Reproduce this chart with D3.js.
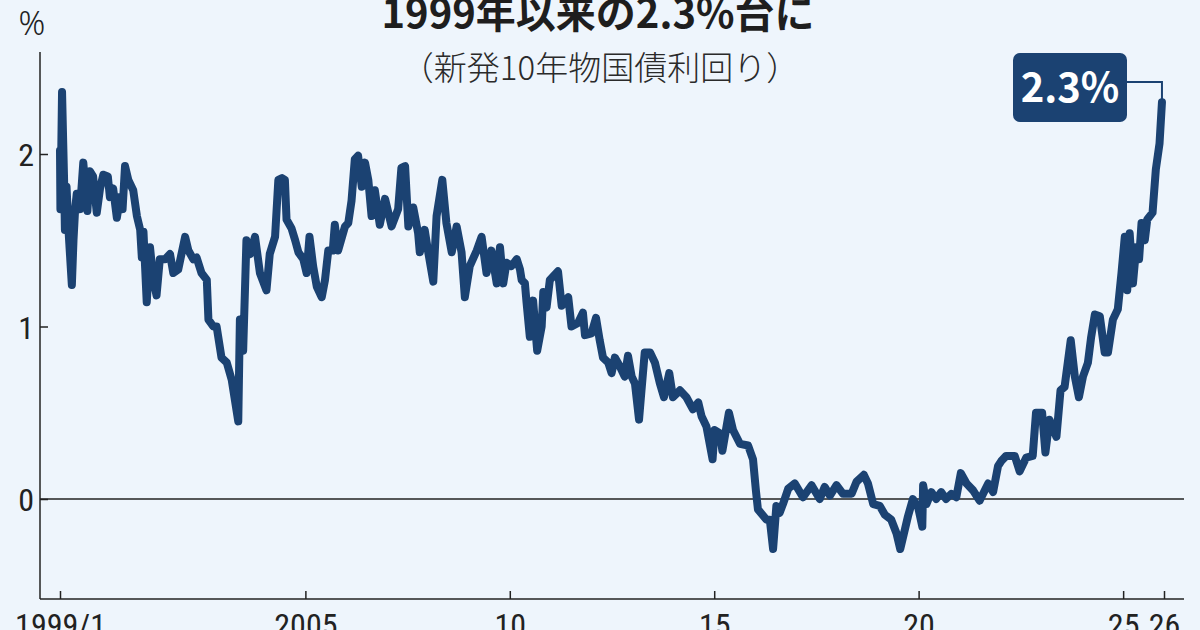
<!DOCTYPE html>
<html><head><meta charset="utf-8">
<script src="https://cdn.jsdelivr.net/npm/d3@7"></script>
<style>
html,body{margin:0;padding:0;background:#eef5fc;}
svg{display:block;}
</style></head>
<body>
<svg id="c" width="1200" height="630"></svg>
<script>
// decimal years (time) and yields (%) of new 10-year JGB
const years = [1999.00,1999.01,1999.03,1999.05,1999.08,1999.10,1999.12,1999.16,1999.21,1999.29,1999.33,1999.37,1999.41,1999.49,1999.57,1999.67,1999.73,1999.81,1999.90,1999.98,
2000.06,2000.17,2000.22,2000.30,2000.39,2000.47,2000.53,2000.59,2000.67,2000.79,2000.88,2000.96,2001.00,2001.04,2001.12,2001.20,2001.28,2001.36,2001.44,2001.57,2001.69,2001.77,2001.89,
2002.06,2002.14,2002.26,2002.34,2002.46,2002.59,2002.63,2002.75,2002.83,2002.95,2003.08,2003.20,2003.28,2003.36,2003.40,2003.48,2003.56,2003.65,2003.77,2003.89,
2004.05,2004.13,2004.26,2004.34,2004.43,2004.50,2004.54,2004.66,2004.75,2004.83,2004.95,2005.03,2005.10,2005.19,2005.28,2005.40,2005.48,2005.56,2005.67,2005.72,2005.80,2005.97,
2006.05,2006.13,2006.21,2006.29,2006.38,2006.46,2006.54,2006.62,2006.70,2006.82,2006.95,2007.11,2007.27,2007.35,2007.44,2007.52,2007.64,2007.76,2007.80,2007.92,
2008.00,2008.13,2008.21,2008.35,2008.45,2008.58,2008.70,2008.82,2008.90,2009.02,2009.19,2009.31,2009.43,2009.55,2009.68,2009.76,2009.84,2009.92,
2010.04,2010.17,2010.25,2010.29,2010.37,2010.41,2010.49,2010.57,2010.67,2010.78,2010.82,2010.90,2010.98,2011.10,2011.18,2011.27,2011.43,2011.51,2011.67,2011.79,2011.84,
2012.00,2012.11,2012.20,2012.28,2012.41,2012.49,2012.57,2012.69,2012.81,2012.89,2012.98,2013.06,2013.16,2013.22,2013.30,2013.43,2013.55,2013.67,2013.77,2013.90,2013.99,
2014.16,2014.32,2014.48,2014.61,2014.69,2014.81,2014.96,2015.01,2015.14,2015.20,2015.36,2015.46,2015.63,2015.83,2015.95,
2016.02,2016.07,2016.28,2016.36,2016.44,2016.52,2016.60,2016.68,2016.81,2016.97,2017.17,2017.38,2017.58,2017.70,2017.83,2017.99,
2018.15,2018.36,2018.48,2018.66,2018.76,2018.89,2019.05,2019.17,2019.33,2019.46,2019.55,2019.66,2019.74,2019.86,2019.99,
2020.09,2020.11,2020.19,2020.31,2020.43,2020.55,2020.67,2020.80,2020.92,2021.03,2021.17,2021.33,2021.49,2021.70,2021.82,2021.94,
2022.02,2022.14,2022.35,2022.47,2022.63,2022.79,2022.87,2023.02,2023.10,2023.20,2023.37,2023.47,2023.57,2023.72,2023.82,2023.92,
2024.02,2024.14,2024.22,2024.31,2024.43,2024.55,2024.63,2024.75,2024.87,2024.96,2025.04,2025.10,2025.16,2025.24,2025.32,2025.39,2025.45,2025.53,2025.59,2025.72,2025.80,2025.89,2025.95];
const yields = [2.02,1.68,2.00,2.36,2.05,1.85,1.56,1.81,1.55,1.24,1.50,1.68,1.77,1.68,1.95,1.67,1.90,1.87,1.66,1.80,
1.88,1.87,1.75,1.80,1.63,1.75,1.68,1.93,1.85,1.79,1.64,1.56,1.40,1.55,1.14,1.46,1.27,1.18,1.39,1.39,1.42,1.31,1.33,
1.52,1.44,1.39,1.40,1.31,1.27,1.04,1.00,1.00,0.82,0.79,0.69,0.57,0.45,1.04,0.86,1.50,1.42,1.52,1.31,
1.21,1.42,1.52,1.85,1.86,1.85,1.62,1.57,1.50,1.43,1.39,1.31,1.52,1.35,1.23,1.17,1.27,1.44,1.44,1.59,1.44,1.58,
1.60,1.73,1.97,1.99,1.81,1.95,1.85,1.64,1.79,1.59,1.74,1.58,1.68,1.92,1.93,1.58,1.69,1.54,1.43,1.56,
1.44,1.26,1.64,1.85,1.60,1.43,1.58,1.43,1.17,1.35,1.44,1.52,1.31,1.44,1.25,1.46,1.25,1.37,
1.35,1.39,1.33,1.27,1.25,1.14,0.94,1.15,0.86,1.00,1.20,1.11,1.27,1.30,1.32,1.12,1.17,1.00,1.02,1.08,0.95,
0.96,1.05,0.92,0.82,0.79,0.73,0.82,0.77,0.71,0.83,0.71,0.67,0.46,0.63,0.85,0.85,0.79,0.67,0.59,0.73,0.59,
0.63,0.59,0.52,0.56,0.48,0.42,0.23,0.40,0.38,0.28,0.50,0.40,0.32,0.31,0.23,
0.05,-0.06,-0.12,-0.12,-0.29,-0.04,-0.08,-0.03,0.06,0.09,0.01,0.08,0.00,0.07,0.02,0.08,
0.03,0.03,0.10,0.14,0.09,-0.03,-0.04,-0.09,-0.12,-0.20,-0.29,-0.18,-0.10,0.00,-0.05,
-0.16,0.08,-0.03,0.04,0.00,0.04,0.00,0.03,0.01,0.15,0.09,0.05,-0.01,0.09,0.04,0.19,
0.22,0.25,0.25,0.16,0.24,0.25,0.50,0.50,0.27,0.46,0.36,0.63,0.65,0.92,0.71,0.59,
0.71,0.79,0.94,1.07,1.06,0.85,0.85,1.04,1.10,1.31,1.52,1.21,1.54,1.25,1.46,1.39,1.60,1.50,1.62,1.66,1.91,2.06,2.30];
const yTicks = [0, 1, 2];
const xTickYears = [1999, 2005, 2010, 2015, 2020, 2025, 2026];
const xTickLabels = ["1999/1", "2005", "10", "15", "20", "25", "26"];
const titleText = "1999年以来の2.3%台に";
const subtitleText = "（新発10年物国債利回り）";
const calloutText = "2.3%";
const unitText = "%";

const toDate = t => { const y = Math.floor(t); const s = Date.UTC(y,0,1), e = Date.UTC(y+1,0,1); return new Date(s + (t-y)*(e-s)); };
const data = years.map((t,i) => ({d: toDate(t), v: yields[i]}));

const NAVY = "#1b4272", INK = "#222";
const svg = d3.select("#c");
const x = d3.scaleTime().domain([new Date(Date.UTC(1999,0,1)), new Date(Date.UTC(2026,0,1))]).range([60, 1164]);
const y = d3.scaleLinear().domain([0, 2]).range([499, 154]);
const axL = 40, axR = 1184, axT = 52, axB = 599;
const tickFont = "'Liberation Sans Narrow','Roboto Condensed','Arial Narrow',sans-serif";

svg.append("rect").attr("width",1200).attr("height",630).attr("fill","#eef5fc");

// title
svg.append("text").attr("x",598).attr("y",28).attr("text-anchor","middle")
  .attr("font-family","'Noto Sans CJK JP',sans-serif").attr("font-weight",700).attr("font-size",40)
  .attr("fill","#1e1e1e").text(titleText);
svg.append("text").attr("x",600).attr("y",80).attr("text-anchor","middle")
  .attr("font-family","'Noto Sans CJK JP',sans-serif").attr("font-weight",300).attr("font-size",33)
  .attr("fill","#2a2a2a").text(subtitleText);

// axes
const yAxis = d3.axisLeft(y).tickValues(yTicks).tickSize(-8).tickPadding(6).tickFormat(d3.format("d"));
const gy = svg.append("g").attr("transform",`translate(${axL},0)`).call(yAxis);
gy.select(".domain").remove();
gy.selectAll(".tick line").attr("stroke",INK).attr("stroke-width",1.5);
gy.selectAll(".tick text").attr("font-family",tickFont).attr("font-size",32).attr("fill",INK).attr("dy","0.36em");
svg.append("line").attr("x1",axL).attr("x2",axL).attr("y1",axT).attr("y2",axB).attr("stroke",INK).attr("stroke-width",1.5);

const xAxis = d3.axisBottom(x).tickValues(xTickYears.map(yr => new Date(Date.UTC(yr,0,1))))
  .tickSize(-8).tickPadding(14).tickFormat((d,i) => xTickLabels[i]);
const gx = svg.append("g").attr("transform",`translate(0,${axB})`).call(xAxis);
gx.select(".domain").remove();
gx.selectAll(".tick line").attr("stroke",INK).attr("stroke-width",1.5);
gx.selectAll(".tick text").attr("font-family",tickFont).attr("font-size",32).attr("fill",INK);
svg.append("line").attr("x1",axL).attr("x2",axR).attr("y1",axB).attr("y2",axB).attr("stroke",INK).attr("stroke-width",1.5);

// zero line
svg.append("line").attr("x1",axL).attr("x2",axR).attr("y1",y(0)).attr("y2",y(0)).attr("stroke",INK).attr("stroke-width",1.5);

svg.append("text").attr("x",32).attr("y",35).attr("text-anchor","middle")
  .attr("font-family","'Noto Sans',sans-serif").attr("font-weight",300).attr("font-size",33).attr("fill",INK).text(unitText);

// line
svg.append("path").datum(data)
  .attr("d", d3.line().x(d => x(d.d)).y(d => y(d.v)))
  .attr("fill","none").attr("stroke",NAVY).attr("stroke-width",8)
  .attr("stroke-linejoin","round").attr("stroke-linecap","round");

// callout
const last = data[data.length-1];
const lx = x(last.d), ly = y(last.v);
svg.append("path").attr("d",`M1127,82H${lx}V${ly}`).attr("fill","none").attr("stroke",NAVY).attr("stroke-width",2);
svg.append("rect").attr("x",1013).attr("y",53).attr("width",114).attr("height",69).attr("rx",7).attr("fill",NAVY);
svg.append("text").attr("x",1070).attr("y",102).attr("text-anchor","middle")
  .attr("font-family","'Noto Sans CJK JP',sans-serif").attr("font-weight",700).attr("font-size",40)
  .attr("fill","#fff").text(calloutText);
</script>
</body></html>
